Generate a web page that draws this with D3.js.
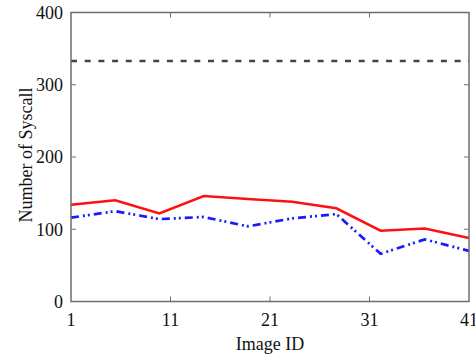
<!DOCTYPE html>
<html><head><meta charset="utf-8">
<script src="https://cdn.jsdelivr.net/npm/d3@7"></script>
<style>html,body{margin:0;padding:0;background:#fff;overflow:hidden}svg{display:block}
text{font-family:"Liberation Serif","Times New Roman","DejaVu Serif",serif;}</style>
</head><body>
<svg id="c" width="475" height="358"></svg>
<script>
const imageIds = [1, 5.444, 9.889, 14.333, 18.778, 23.222, 27.667, 32.111, 36.556, 41];
const redValues = [134, 140, 122, 146, 142, 138, 129, 98, 101, 88];
const blueValues = [116, 125, 114, 117, 104, 115, 121, 66, 86, 70];
const baselineValue = 333;
const xTicks = [1, 11, 21, 31, 41];
const yTicks = [0, 100, 200, 300, 400];

const svg = d3.select("#c");
const L = 71, R = 469, T = 12.5, B = 301.5;
const x = d3.scaleLinear().domain([1, 41]).range([L, R]);
const y = d3.scaleLinear().domain([0, 400]).range([B, T]);
const axisColor = "#6e6e6e";

const g = svg.append("g");
[11, 21, 31].forEach(v => {
  g.append("line").attr("x1", x(v)).attr("x2", x(v)).attr("y1", B).attr("y2", B - 5).attr("stroke", axisColor).attr("stroke-width", 1);
  g.append("line").attr("x1", x(v)).attr("x2", x(v)).attr("y1", T).attr("y2", T + 5).attr("stroke", axisColor).attr("stroke-width", 1);
});
[100, 200, 300].forEach(v => {
  g.append("line").attr("x1", L).attr("x2", L + 5).attr("y1", y(v)).attr("y2", y(v)).attr("stroke", axisColor).attr("stroke-width", 1);
  g.append("line").attr("x1", R).attr("x2", R - 5).attr("y1", y(v)).attr("y2", y(v)).attr("stroke", axisColor).attr("stroke-width", 1);
});

xTicks.forEach(v => {
  svg.append("text").attr("x", x(v)).attr("y", 325.5).attr("text-anchor", "middle")
    .attr("font-size", 18).attr("fill", "#111").text(v);
});
yTicks.forEach(v => {
  svg.append("text").attr("x", 63).attr("y", y(v)).attr("dy", "0.35em").attr("text-anchor", "end")
    .attr("font-size", 18).attr("fill", "#111").text(v);
});

svg.append("text").attr("x", (L + R) / 2).attr("y", 350).attr("text-anchor", "middle")
  .attr("font-size", 18).attr("fill", "#111").text("Image ID");
svg.append("text").attr("transform", "translate(32,155) rotate(-90)").attr("text-anchor", "middle")
  .attr("font-size", 18).attr("fill", "#111").text("Number of Syscall");

svg.append("line").attr("x1", x(1)).attr("x2", x(41)).attr("y1", y(baselineValue)).attr("y2", y(baselineValue))
  .attr("stroke", "#444").attr("stroke-width", 2.5).attr("stroke-dasharray", "6,7.7");

const line = d3.line().x(d => x(d[0])).y(d => y(d[1]));
svg.append("path").datum(imageIds.map((d, i) => [d, blueValues[i]])).attr("d", line)
  .attr("fill", "none").attr("stroke", "#1a1aff").attr("stroke-width", 2.7)
  .attr("stroke-dasharray", "8,4,2,3,2,4");
svg.append("path").datum(imageIds.map((d, i) => [d, redValues[i]])).attr("d", line)
  .attr("fill", "none").attr("stroke", "#ff1010").attr("stroke-width", 2.5);

svg.append("rect").attr("x", L).attr("y", T).attr("width", R - L).attr("height", B - T)
  .attr("fill", "none").attr("stroke", axisColor).attr("stroke-width", 1.5);
</script>
</body></html>
